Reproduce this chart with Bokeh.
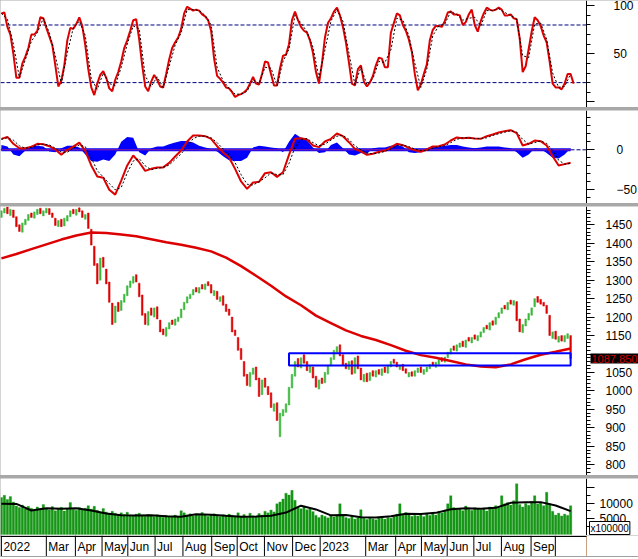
import numpy as np
from bokeh.plotting import figure
from bokeh.layouts import column
from bokeh.models import Range1d, FixedTicker, Span, BoxAnnotation, Label
from bokeh.embed import file_html
from bokeh.resources import INLINE
from bokeh.core.properties import value

# ---------------- data (one price bar per session slot) ----------------
month_labels = ["2022", "Mar", "Apr", "May", "Jun", "Jul", "Aug", "Sep", "Oct", "Nov", "Dec",
                "2023", "Mar", "Apr", "May", "Jun", "Jul", "Aug", "Sep", ""]
month_start = [0, 15, 24.7, 33.6, 42.2, 51.3, 60.6, 70.2, 78.7, 87.8, 97.2,
               106.4, 121.6, 131.6, 140.2, 148.8, 157.7, 166.9, 176.8, 184.9]

price_open = [1470,1482,1498,1475,1490,1472,1450,1430,1450,1462,
              1482,1468,1478,1495,1474,1482,1494,1482,1468,1445,
              1465,1447,1460,1472,1492,1476,1496,1488,1465,1482,
              1438,1392,1345,1300,1362,1330,1295,1238,1185,1240,
              1218,1240,1258,1280,1292,1315,1292,1260,1210,1178,
              1225,1200,1228,1192,1168,1148,1168,1192,1178,1188,
              1198,1220,1238,1250,1260,1280,1265,1288,1275,1296,
              1288,1258,1270,1242,1258,1235,1222,1200,1165,1145,
              1115,1080,1045,1012,1045,1065,1035,990,1035,1012,
              995,945,968,876,932,942,962,1008,1040,1088,
              1062,1098,1080,1050,1065,1040,1005,1035,1022,1045,
              1068,1085,1105,1125,1098,1075,1058,1082,1048,1095,
              1062,1025,1048,1028,1055,1038,1058,1042,1065,1048,
              1065,1086,1078,1058,1072,1060,1038,1052,1040,1050,
              1065,1045,1052,1060,1078,1064,1072,1090,1078,1090,
              1100,1122,1108,1118,1135,1118,1145,1130,1152,1136,
              1146,1158,1178,1165,1190,1180,1198,1210,1232,1220,
              1246,1232,1242,1195,1158,1176,1192,1205,1228,1256,
              1248,1240,1232,1205,1142,1162,1132,1150,1133,1142,
              1150]
price_close = [1488,1495,1480,1492,1470,1445,1432,1455,1465,1478,
               1470,1485,1492,1480,1488,1495,1478,1470,1448,1462,
               1445,1468,1475,1488,1480,1492,1485,1470,1478,1440,
               1395,1340,1290,1360,1335,1290,1240,1180,1230,1215,
               1245,1262,1285,1298,1310,1295,1255,1205,1180,1215,
               1205,1225,1195,1160,1152,1172,1185,1180,1195,1200,
               1222,1240,1255,1262,1275,1268,1280,1276,1290,1285,
               1265,1272,1248,1255,1232,1215,1205,1160,1150,1110,
               1085,1040,1015,1050,1062,1030,985,1030,1010,990,
               955,965,920,940,950,965,1010,1045,1080,1065,
               1090,1075,1055,1068,1035,1010,1030,1020,1050,1070,
               1090,1110,1120,1095,1070,1060,1080,1045,1090,1060,
               1030,1045,1025,1050,1040,1055,1045,1060,1050,1070,
               1080,1075,1065,1070,1055,1048,1050,1040,1055,1062,
               1050,1058,1065,1072,1068,1078,1085,1080,1092,1105,
               1115,1110,1125,1130,1120,1138,1135,1145,1140,1150,
               1160,1172,1168,1185,1178,1200,1212,1225,1222,1240,
               1235,1245,1190,1160,1180,1195,1210,1225,1250,1240,
               1235,1230,1210,1150,1160,1140,1148,1135,1150,1155,
               1087.85]
# 200-session moving average, one reading every 5 slots
ma200 = [1359,1371,1384,1397,1410,1421,1429,1428,1424,1419,1411,1403,1396,1388,1378,
         1361,1338,1312,1285,1256,1232,1204,1184,1164,1149,1138,1124,1109,1097,1090,
         1081,1072,1066,1064,1072,1086,1098,1106,1115]
zone_first, zone_last = 96, 190
zone_low, zone_high = 1069, 1102

volume = [11800,12500,11200,12100,10400,9100,8600,9400,8200,9000,
          8400,7900,8800,8300,9600,8100,7800,8900,7600,8300,
          8700,7500,8200,10200,8000,7700,8600,7900,8400,9200,
          8100,9000,7700,7000,8300,7200,6600,7400,6800,6300,
          6900,6400,7100,6200,5900,6500,6800,6100,5800,6400,
          6000,5700,6300,5900,5500,6100,5600,5800,6200,5700,
          7600,6900,6200,6600,5900,6400,6100,7000,6300,5800,
          6200,6600,6000,5700,6300,5900,6500,6100,5600,6900,
          5800,6400,5500,6800,6000,5700,6700,6200,7400,6900,
          7800,7200,9800,10400,11300,13200,12600,14100,10900,8600,
          8200,9100,7900,8400,7300,6100,5400,6200,5800,5300,
          6100,5600,5900,9800,6200,5400,5100,5700,4900,5300,
          7900,5200,4800,5500,5000,4700,5300,5600,4900,5400,
          5200,5800,6500,9800,6200,7000,6400,5800,6100,5900,
          6300,5700,6800,6100,6600,6200,7400,6900,7800,9800,
          12400,8600,7900,8300,7600,9100,8000,7700,8500,8200,
          7900,8400,7500,8800,8100,9200,8600,12400,9800,10200,
          9400,10800,16200,9600,8800,9900,9300,10600,12400,9700,
          10100,9200,13500,9800,7400,6200,6800,5900,6500,6100,
          9200]
# volume moving average, one reading every 5 slots
vol_ma = [9800,9750,7660,8350,8190,8400,7660,6700,6150,6060,6160,5800,5660,6450,6300,
          5950,5650,5700,6000,7000,9200,8000,6100,6200,5500,5400,5800,6600,6500,6900,
          8050,8400,8190,8510,10100,10300,10330,9260,7450]

# stochastic %K (every slot) and %D (every 2 slots)
stoch_k = [92,93,78,70,50,25,25,40,47,56,
           70,70,74,88,87,77,68,59,38,16,
           22,38,64,77,76,81,88,79,59,34,
           15,7,19,28,32,25,14,11,23,31,
           42,56,64,74,85,86,65,38,16,11,
           21,28,23,16,15,29,44,56,62,67,
           76,92,99,97,95,96,95,91,89,85,
           74,45,27,24,20,15,14,10,5,7,
           8,10,13,19,26,19,18,29,42,41,
           29,17,17,35,48,49,60,85,94,85,
           78,74,72,64,51,31,19,40,67,82,
           87,94,98,90,78,62,41,19,17,34,
           38,21,16,20,27,38,46,45,36,36,
           72,82,92,90,80,74,65,52,29,12,
           18,29,39,64,75,79,79,78,84,93,
           94,91,91,90,80,83,91,96,80,73,
           84,92,98,96,95,96,98,96,90,90,
           91,87,86,66,31,37,55,73,88,85,
           79,69,62,42,19,15,15,13,19,29,
           29,19]
stoch_d = [92,86,60,25,44,63,72,87,72,48,
           19,51,77,84,69,24,13,30,19,17,
           36,60,79,76,27,16,26,15,37,59,
           72,96,96,95,90,80,36,22,14,8,
           8,11,23,19,36,35,17,42,55,90,
           82,73,57,25,54,84,96,84,51,18,
           36,18,24,42,41,54,87,85,69,40,
           15,34,69,79,81,94,91,85,87,88,
           79,95,95,97,93,90,86,48,46,81,
           82,65,30,15,16,29]
stoch_levels = [80, 20]

# MACD, signal and histogram (every 2 slots)
macd = [13.7,16.2,7.5,2,2,3.7,7.5,7,4.5,0.4,
        -6.3,0,4,9,-1.3,-19.6,-33.4,-35,-50,-56,
        -38.4,-19.6,-7.1,-15.5,-26.3,-23.8,-22,-22,-16.3,-8.4,
        -0.9,10.4,17.9,17.9,17,13.7,4.5,-3.4,-9.6,-23.8,
        -39.6,-48.8,-40.9,-40,-29.2,-28,-33.8,-28,-6.3,13.7,
        14.5,12.9,5.4,3.3,10.4,13.7,20.4,17,9.5,1.2,
        -2.1,-6.3,-5,-2.5,-1.3,2.9,7.5,5.8,2.5,-0.5,
        -2.5,0.4,4.1,4.5,6.6,11.6,15.4,14.5,15,14.1,
        13.7,17,19.1,21.6,23.3,24.5,20.8,5.4,7.5,11.6,
        10.8,5.4,-8,-19.6,-17.9,-16.3]
macd_signal = [13,15,12,5,2,3,6,7,6,2,
               -3,-3,2,6,4,-10,-26,-34,-42,-50,
               -47,-29,-14,-11,-20,-25,-23,-22,-19,-12,
               -5,4,14,17,17,15,9,1,-6,-16,
               -31,-43,-44,-40,-35,-29,-31,-31,-17,3,
               13,14,9,5,7,12,17,18,13,5,
               0,-4,-5,-4,-2,1,5,6,4,1,
               -1,-1,2,4,5,9,13,15,15,14,
               14,15,18,20,22,24,22,13,7,9,
               11,8,-1,-13,-18,-17]
macd_hist = [6,4,-6,-8,-1,5,5,4,-2,-3,
             2,5,5,3,-6,-14,-15,-12,-14,-6,
             10,16,15,-3,-7,2,4,4,7,9,
             11,11,9,5,3,1,-2,-8,-13,-14,
             -14,-10,3,5,4,3,2,-3,10,20,
             15,12,3,-4,-3,6,9,2,-6,-7,
             -4,-5,2,3,3,5,6,4,-3,-4,
             -3,2,4,4,5,6,6,4,3,2,
             3,4,4,4,3,2,-3,-10,-6,2,
             1,-4,-10,-11,-6,2]

# ---------------- styling / geometry ----------------
FONT = "Liberation Sans"
RED = "#dd0000"
GREEN = "#3cb83c"
BLUE = "#0000ff"
NAVY = "#000080"
VOLG = "#169616"
WIDTH = 638          # full figure width (frame spans all of it)
AXIS_PX = 586        # pixel column where the right axis sits
X0 = -0.3            # left edge of the frame, in session slots
AXIS_X = 195.3       # session slot where the right axis line is drawn
X1 = X0 + (AXIS_X - X0) * WIDTH / AXIS_PX

xr = Range1d(X0, X1)


def panel(h, y0, y1, standoff):
    p = figure(width=WIDTH, height=h, x_range=xr, y_range=Range1d(y0, y1),
               output_backend="svg", toolbar_location=None,
               y_axis_location="right", x_axis_location=None,
               min_border_left=0, min_border_right=0, min_border_top=0, min_border_bottom=0,
               outline_line_color=None, border_fill_color="white", background_fill_color="white")
    p.grid.visible = False
    ax = p.yaxis[0]
    ax.fixed_location = AXIS_X
    ax.axis_line_color = "black"
    ax.major_tick_line_color = "black"
    ax.minor_tick_line_color = "black"
    ax.major_tick_in = 0
    ax.major_tick_out = 8
    ax.minor_tick_in = 0
    ax.minor_tick_out = 4
    ax.major_label_standoff = standoff
    ax.major_label_text_font = FONT
    ax.major_label_text_font_size = "12px"
    ax.major_label_text_color = "black"
    return p


xs = np.arange(len(price_close))

# ---- stochastic ----
ps = panel(107, -5.9, 105.5, 19)
ps.yaxis.ticker = FixedTicker(ticks=[0, 50, 100], minor_ticks=[10, 20, 30, 40, 60, 70, 80, 90])
ps.yaxis.major_label_overrides = {0: ""}
ps.segment(x0=[X0] * len(stoch_levels), y0=stoch_levels, x1=[AXIS_X] * len(stoch_levels), y1=stoch_levels,
           line_color=NAVY, line_dash="4 2", line_width=1)
ps.line(np.arange(len(stoch_k)), stoch_k, line_color=RED, line_width=2)
ps.line(np.arange(len(stoch_d)) * 2, stoch_d, line_color="black", line_dash="2 2", line_width=1)

# ---- MACD ----
pm = panel(93, -67.1, 49.1, 22)
pm.yaxis.ticker = FixedTicker(ticks=[-50, 0], minor_ticks=[-60, -40, -30, -20, -10, 10, 20, 30, 40])
xm = np.arange(len(macd)) * 2
pm.segment(x0=[X0], y0=[0], x1=[AXIS_X], y1=[0], line_color=NAVY, line_dash="4 2", line_width=1)
pm.varea(x=xm, y1=0, y2=macd_hist, fill_color=BLUE)
pm.line([xm[0], xm[-1]], [0, 0], line_color=BLUE, line_width=3)
pm.line([xm[0], xm[-1]], [0, 0], line_color="#a0208f", line_width=1)
pm.line(xm, macd, line_color=RED, line_width=2)
pm.line(xm, macd_signal, line_color="black", line_dash="2 2", line_width=1)

# ---- price ----
pp = panel(269, 771, 1499.6, 11)
pp.yaxis.ticker = FixedTicker(ticks=list(range(800, 1451, 50)),
                              minor_ticks=[v for v in range(780, 1500, 10) if v % 50])
pp.yaxis.major_label_overrides = {1100: ""}
po = np.array(price_open, dtype=float)
pc = np.array(price_close, dtype=float)
cols = np.where(pc >= po, GREEN, RED).tolist()
pp.vbar(x=xs, top=np.maximum(po, pc), bottom=np.minimum(po, pc), width=0.55,
        fill_color=cols, line_color=cols, line_width=0.5)
pp.line(np.arange(len(ma200)) * 5, ma200, line_color=RED, line_width=2.5)
pp.add_layout(BoxAnnotation(left=zone_first, right=zone_last, bottom=zone_low, top=zone_high,
                            fill_color=None, fill_alpha=0, line_color=BLUE, line_alpha=1, line_width=2))
pp.add_layout(Label(x=AXIS_X, y=price_close[-1], x_offset=4, text=f"{price_close[-1]:.3f}",
                    text_font=FONT, text_font_size="11px", text_color="#cc0000",
                    text_baseline="middle", background_fill_color="black", padding=1))

# ---- volume ----
pv = panel(57, -350, 17900, 5)
pv.yaxis.ticker = FixedTicker(ticks=[5000, 10000, 15000], minor_ticks=[2500, 7500, 12500])
pv.yaxis.major_label_overrides = {15000: ""}
pv.vbar(x=xs, top=volume, bottom=0, width=0.8, fill_color=VOLG, line_color=VOLG, line_width=0.3)
pv.line(np.arange(len(vol_ma)) * 5, vol_ma, line_color="black", line_width=2)
pv.add_layout(Label(x=AXIS_X, y=-350, x_offset=3, y_offset=1, text="x100000", text_font=FONT,
                    text_font_size="10px", text_color="black", text_baseline="bottom",
                    background_fill_color="white", border_line_color="black", padding=1))

# ---- date band ----
pdt = figure(width=WIDTH, height=22, x_range=xr, y_range=Range1d(-0.05, 1.05),
             output_backend="svg", toolbar_location=None,
             y_axis_location=None, x_axis_location=None,
             min_border_left=0, min_border_right=0, min_border_top=0, min_border_bottom=0,
             outline_line_color=None, border_fill_color="white")
pdt.grid.visible = False
pdt.segment(x0=month_start, y0=0, x1=month_start, y1=1.05, line_color="black", line_width=1)
pdt.segment(x0=[AXIS_X], y0=[0], x1=[AXIS_X], y1=[1.05], line_color="#c8a080", line_width=1)
pdt.text(x=month_start, y=0.5, text=month_labels, x_offset=2, text_align="left", text_baseline="middle",
         text_font=value(FONT), text_font_size="12px", text_color="black")
pdt.segment(x0=[X0], y0=[1.0], x1=[AXIS_X], y1=[1.0], line_color="black", line_width=1)
pdt.add_layout(Span(location=0.0, dimension="width", line_color="#a0a0a0", line_width=1))

layout = column(ps, pm, pp, column(pv, pdt, spacing=0), spacing=3,
                styles={"background-color": "#a8a8a8"})

open("out.html", "w").write(file_html(layout, INLINE, title="VN-Index"))
